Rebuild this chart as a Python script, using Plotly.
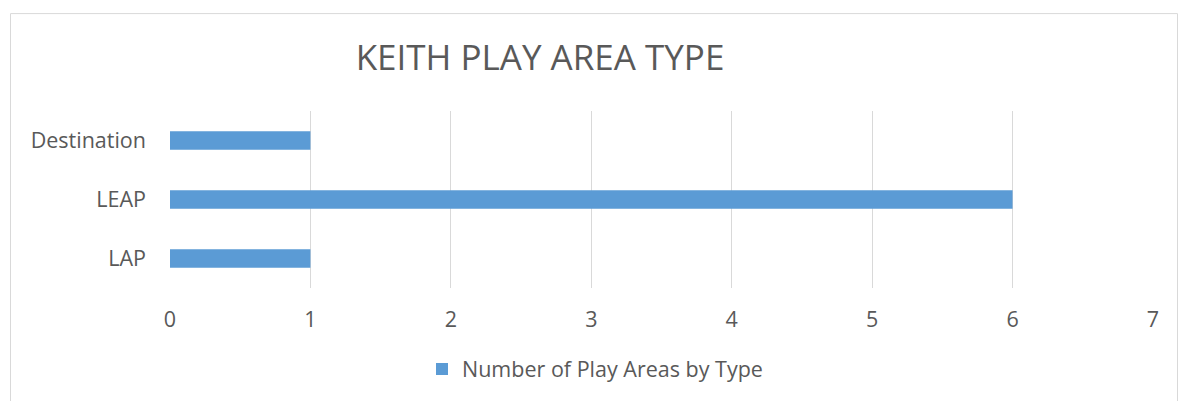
import plotly.graph_objects as go

categories = ["LAP", "LEAP", "Destination"]
values = [1, 6, 1]
series_name = "Number of Play Areas by Type"
title_text = "KEITH PLAY AREA TYPE"
x_ticks = [0, 1, 2, 3, 4, 5, 6, 7]

W, H = 1178, 401
L, R, T, B = 170, 25, 111, 111
PW = W - L - R
PH = H - T - B

def px(x):
    return (x - L) / PW

def py(y):
    return (H - B - y) / PH

TEXT = "#595959"
GRID = "#D9D9D9"
FONT = "Open Sans"
FS = 21.5

fig = go.Figure()
fig.add_trace(go.Bar(
    y=categories, x=values, orientation="h", name=series_name,
    marker=dict(color="#5B9BD5", line=dict(width=0)),
    width=0.31, showlegend=True,
))

fig.update_layout(
    width=W, height=H,
    margin=dict(l=L, r=R, t=T, b=B),
    paper_bgcolor="white", plot_bgcolor="white",
    font=dict(family=FONT, color=TEXT, size=FS),
    title=dict(text=title_text, x=px(540), xref="paper", xanchor="center",
               y=1 - 58 / H, yanchor="middle",
               font=dict(family=FONT, size=35, color=TEXT)),
    xaxis=dict(range=[0, 7], tickvals=x_ticks, showgrid=True, gridcolor=GRID,
               gridwidth=1, zeroline=False, showline=False, ticks="",
               tickfont=dict(size=FS, color=TEXT), ticklabelstandoff=16,
               fixedrange=True),
    yaxis=dict(categoryorder="array", categoryarray=categories, showgrid=False,
               zeroline=False, showline=False, ticks="",
               tickfont=dict(size=FS, color=TEXT), ticklabelstandoff=23,
               fixedrange=True),
    legend=dict(orientation="h", x=px(462 - 40), xanchor="left", y=py(372), yanchor="middle",
                font=dict(size=FS, color=TEXT), itemwidth=30,
                bgcolor="rgba(0,0,0,0)"),
    shapes=[dict(type="rect", xref="paper", yref="paper",
                 x0=px(10.5), x1=px(1177.5), y0=py(405), y1=py(12.5),
                 line=dict(color=GRID, width=1), fillcolor="rgba(0,0,0,0)", layer="below")],
    bargap=0.69,
)

fig.write_html("out.html", config={"displayModeBar": False},
               post_script="document.body.style.margin='0';")
